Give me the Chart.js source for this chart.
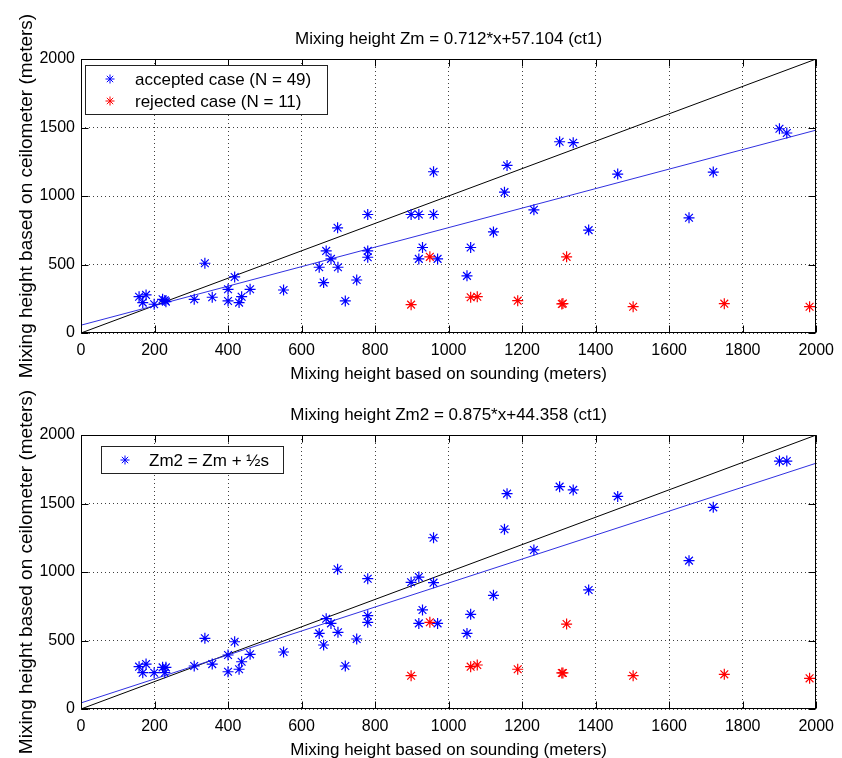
<!DOCTYPE html>
<html>
<head>
<meta charset="utf-8">
<title>Mixing height: ceilometer vs sounding</title>
<script src="https://cdn.jsdelivr.net/npm/chart.js@4.4.1/dist/chart.umd.min.js"></script>
<style>
  html, body { margin:0; padding:0; background:#fff; overflow:hidden; }
  #wrap { position:relative; width:842px; height:758px; }
  .panel { position:absolute; left:0; width:842px; height:390px; }
</style>
</head>
<body>
<div id="wrap">
  <div class="panel" style="top:0"><canvas id="panel-zm"></canvas></div>
  <div class="panel" style="top:376px"><canvas id="panel-zm2"></canvas></div>
</div>
<script>
// values (meters)
const soundingAccepted = [158,177,168,199,222,231,228,308,337,357,400,400,418,430,437,460,551,648,660,667,680,699,698,719,750,780,780,780,898,919,959,959,929,919,970,1060,1050,1122,1152,1159,1232,1302,1339,1381,1460,1654,1720,1900,1920];
const zmAccepted = [265,278,222,210,246,229,238,246,509,261,319,234,409,222,265,319,314,480,368,599,541,480,768,234,387,865,599,553,865,865,865,1177,624,541,541,624,417,738,1028,1223,899,1396,1389,751,1160,841,1175,1491,1460];
const zm2Accepted = [309,328,265,265,304,304,265,314,516,328,394,272,491,290,345,399,416,552,467,659,625,560,1020,314,511,951,681,633,925,963,922,1250,723,625,625,691,552,830,1312,1572,1161,1623,1599,869,1552,1083,1472,1810,1810];

const soundingRejected = [898,949,1060,1078,1188,1308,1311,1321,1502,1750,1982];
const zmRejected = [207,556,261,265,236,212,215,556,192,214,192];
const zm2Rejected = [243,633,309,321,290,263,263,620,243,253,224];

// 1:1 reference and fitted lines (end points at x = 0 and x = 2000)
const lineX = [0, 2000];
const oneToOneY = [0, 2000];
const fitZmY = [57.1, 1481.1];
const fitZm2Y = [44.4, 1794.4];

const xTicks = [0,200,400,600,800,1000,1200,1400,1600,1800,2000];
const yTicks = [0,500,1000,1500,2000];

const FONT = '"Liberation Sans", Arial, Helvetica, sans-serif';
const BLUE = '#0000ff', RED = '#ff0000', FITBLUE = '#3030e0';

function pts(xs, ys){ return xs.map((x,i)=>({x, y: ys[i]})); }

function starAt(ctx, x, y, r, color){
  const d = r * Math.SQRT1_2;
  ctx.save();
  ctx.strokeStyle = color; ctx.lineWidth = 1;
  ctx.beginPath();
  ctx.moveTo(x - r, y); ctx.lineTo(x + r, y);
  ctx.moveTo(x, y - r); ctx.lineTo(x, y + r);
  ctx.moveTo(x - d, y - d); ctx.lineTo(x + d, y + d);
  ctx.moveTo(x - d, y + d); ctx.lineTo(x + d, y - d);
  ctx.stroke();
  ctx.restore();
}

// box round the axes with inward ticks on all four sides (matlab style)
const frame = {
  id: 'frame',
  afterDatasetsDraw(chart){
    const {ctx, chartArea:a, scales:{x, y}} = chart;
    const L = Math.round(a.left)+0.5, R = Math.round(a.right)-0.5, T = Math.round(a.top)+0.5, B = Math.round(a.bottom)-0.5;
    const tl = 7;
    ctx.save();
    ctx.strokeStyle = '#000'; ctx.lineWidth = 1;
    ctx.strokeRect(L, T, R - L, B - T);
    ctx.beginPath();
    xTicks.forEach(v => {
      const px = Math.round(x.getPixelForValue(v)) + 0.5;
      ctx.moveTo(px, B); ctx.lineTo(px, B - tl);
      ctx.moveTo(px, T); ctx.lineTo(px, T + tl);
    });
    yTicks.forEach(v => {
      const py = Math.round(y.getPixelForValue(v)) + 0.5;
      ctx.moveTo(L, py); ctx.lineTo(L + tl, py);
      ctx.moveTo(R, py); ctx.lineTo(R - tl, py);
    });
    ctx.stroke();
    ctx.restore();
  }
};

// title + axis labels, centred on the axes box
const labels = {
  id: 'labels',
  afterDraw(chart, args, o){
    const {ctx, chartArea:a} = chart;
    const cx = (a.left + a.right)/2, cy = (a.top + a.bottom)/2;
    ctx.save();
    ctx.fillStyle = '#000';
    ctx.textAlign = 'center'; ctx.textBaseline = 'middle';
    ctx.font = '17px ' + FONT;
    ctx.fillText(o.title, cx, o.titleY);
    ctx.fillText(o.xTitle, cx, o.xTitleY);
    ctx.translate(o.yTitleX, cy);
    ctx.rotate(-Math.PI/2);
    ctx.font = '19px ' + FONT;
    ctx.fillText(o.yTitle, 0, 0);
    ctx.restore();
  }
};

// legend drawn inside the axes, with a framed white box
const boxLegend = {
  id: 'boxLegend',
  afterDraw(chart, args, o){
    const {ctx} = chart;
    ctx.save();
    ctx.fillStyle = '#fff';
    ctx.fillRect(o.left, o.top, o.width, o.height);
    ctx.strokeStyle = '#222'; ctx.lineWidth = 1;
    ctx.strokeRect(o.left + 0.5, o.top + 0.5, o.width, o.height);
    ctx.font = '17px ' + FONT;
    ctx.fillStyle = '#000'; ctx.textAlign = 'left'; ctx.textBaseline = 'middle';
    o.items.forEach((it, i) => {
      const yy = o.top + o.firstRow + i * o.rowGap;
      starAt(ctx, o.left + o.markerX, yy, 4.5, it.color);
      ctx.fillText(it.text, o.left + o.textX, yy + 1);
    });
    ctx.restore();
  }
};

const plainTick = v => String(v);

function makePanel(id, acceptedY, rejectedY, fitY, title, legend){
  return new Chart(document.getElementById(id), {
    type: 'scatter',
    data: {
      datasets: [
        { label:'1:1', data: pts(lineX, oneToOneY), showLine:true, borderColor:'#000', borderWidth:1, pointRadius:0, order:3 },
        { label:'fit', data: pts(lineX, fitY), showLine:true, borderColor:FITBLUE, borderWidth:1, pointRadius:0, order:2 },
        { label:'accepted', data: pts(soundingAccepted, acceptedY), pointStyle:'star', pointRadius:5.5, borderColor:BLUE, backgroundColor:BLUE, pointBorderWidth:1.2, order:1 },
        { label:'rejected', data: pts(soundingRejected, rejectedY), pointStyle:'star', pointRadius:5.5, borderColor:RED, backgroundColor:RED, pointBorderWidth:1.2, order:0 }
      ]
    },
    options: {
      responsive: true, maintainAspectRatio: false, animation: false, events: [],
      layout: { padding: { top: 59, right: 22, left: 0, bottom: 0 } },
      scales: {
        x: {
          type: 'linear', min: 0, max: 2000,
          afterBuildTicks: s => { s.ticks = xTicks.map(v => ({value: v})); },
          afterFit: s => { s.height = 57; },
          ticks: { color:'#000', font:{ family: FONT, size: 16 }, padding: 8, maxRotation: 0, autoSkip: false, callback: plainTick },
          grid: { color:'rgba(0,0,0,0.75)', lineWidth: 1, drawTicks: false },
          border: { display: false, dash: [1, 3] }
        },
        y: {
          type: 'linear', min: 0, max: 2000,
          afterBuildTicks: s => { s.ticks = yTicks.map(v => ({value: v})); },
          afterFit: s => { s.width = 81; },
          ticks: { color:'#000', font:{ family: FONT, size: 16 }, padding: 6, autoSkip: false, callback: plainTick },
          grid: { color:'rgba(0,0,0,0.75)', lineWidth: 1, drawTicks: false },
          border: { display: false, dash: [1, 3] }
        }
      },
      plugins: {
        legend: { display: false },
        tooltip: { enabled: false },
        labels: {
          title, titleY: 39,
          xTitle: 'Mixing height based on sounding (meters)', xTitleY: 374,
          yTitle: 'Mixing height based on ceilometer (meters)', yTitleX: 27
        },
        boxLegend: legend
      }
    },
    plugins: [frame, labels, boxLegend]
  });
}

makePanel('panel-zm', zmAccepted, zmRejected, fitZmY,
  'Mixing height Zm = 0.712*x+57.104 (ct1)',
  { left:85, top:65, width:242, height:49, markerX:25, textX:50, firstRow:14, rowGap:22,
    items:[{text:'accepted case (N = 49)', color:BLUE}, {text:'rejected case (N = 11)', color:RED}] });

makePanel('panel-zm2', zm2Accepted, zm2Rejected, fitZm2Y,
  'Mixing height Zm2 = 0.875*x+44.358 (ct1)',
  { left:101, top:70, width:182, height:27, markerX:24, textX:48, firstRow:14, rowGap:22,
    items:[{text:'Zm2 = Zm + ½s', color:BLUE}] });
</script>
</body>
</html>
